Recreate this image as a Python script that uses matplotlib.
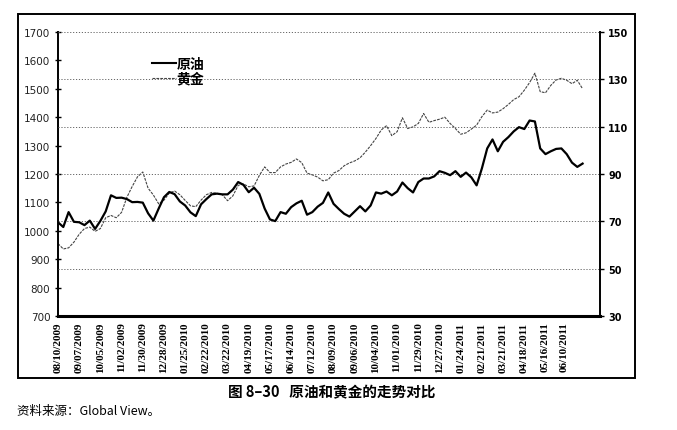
import matplotlib
matplotlib.use("Agg")
import matplotlib.pyplot as plt
import pandas as pd
from matplotlib.lines import Line2D
from matplotlib.patches import Rectangle

CJK = ["Noto Sans CJK SC", "DejaVu Sans"]
NARROW = ["Liberation Sans Narrow", "Liberation Serif", "DejaVu Sans"]

# weekly readings, first week = 08/10/2009
weeks = pd.date_range("2009-08-10", periods=100, freq="7D")

# gold, USD/oz (left axis)
gold = [
    955, 936, 940, 960, 988, 1008, 1013, 998, 1008, 1046,
    1054, 1046, 1065, 1118, 1156, 1190, 1207, 1150, 1126, 1095,
    1108, 1133, 1140, 1127, 1107, 1088, 1085, 1108, 1127, 1135,
    1132, 1127, 1106, 1123, 1160, 1165, 1155, 1158, 1195, 1225,
    1205, 1205, 1225, 1235, 1241, 1253, 1240, 1203, 1197, 1189,
    1176, 1180, 1203, 1212, 1229, 1239, 1246, 1257, 1277, 1300,
    1325, 1355, 1370, 1335, 1349, 1398, 1360, 1366, 1378, 1413,
    1382, 1388, 1393, 1400, 1378, 1360, 1340, 1345, 1358, 1372,
    1402, 1425, 1415, 1418, 1430, 1445, 1462, 1472, 1495, 1522,
    1555, 1490, 1486, 1512, 1531, 1537, 1530, 1518, 1530, 1500,
]

# crude oil, USD/bbl (right axis)
oil = [
    69.6, 67.6, 73.9, 69.8, 69.6, 68.4, 70.3, 66.8, 70.2, 74.2,
    81.0, 79.9, 80.0, 79.4, 78.1, 78.2, 77.9, 73.4, 70.3, 75.4,
    80.2, 82.4, 81.5, 78.4, 76.7, 73.8, 72.2, 77.2, 79.4, 81.4,
    81.7, 81.4, 81.4, 83.4, 86.6, 85.4, 82.3, 84.2, 81.6, 75.4,
    70.8, 70.1, 73.9, 73.2, 76.0, 77.6, 78.7, 72.8, 73.9, 76.2,
    77.8, 82.2, 77.4, 75.2, 73.2, 72.0, 74.2, 76.4, 74.2, 76.7,
    82.2, 81.7, 82.6, 81.0, 82.6, 86.4, 84.0, 82.2, 86.6, 88.1,
    88.1, 89.0, 91.2, 90.5, 89.5, 91.2, 88.8, 90.6, 88.6, 85.2,
    92.4, 100.8, 104.6, 99.6, 103.6, 105.6, 108.0, 109.8, 109.0, 112.6,
    112.2, 100.8, 98.4, 99.6, 100.6, 100.8, 98.4, 94.8, 93.0, 94.4,
]

tick_labels = [
    "08/10/2009", "09/07/2009", "10/05/2009", "11/02/2009", "11/30/2009",
    "12/28/2009", "01/25/2010", "02/22/2010", "03/22/2010", "04/19/2010",
    "05/17/2010", "06/14/2010", "07/12/2010", "08/09/2010", "09/06/2010",
    "10/04/2010", "11/01/2010", "11/29/2010", "12/27/2010", "01/24/2011",
    "02/21/2011", "03/21/2011", "04/18/2011", "05/16/2011", "06/10/2011",
]
tick_dates = pd.to_datetime(tick_labels, format="%m/%d/%Y")

left_ticks = list(range(700, 1701, 100))
right_ticks = list(range(30, 151, 20))

fig = plt.figure(figsize=(6.77, 4.31), dpi=100)
ax = fig.add_axes([58 / 677, 1 - 317 / 431, 542 / 677, 284 / 431])
ax2 = ax.twinx()

# outer box round the whole chart
fig.patches.append(Rectangle((18 / 677, 1 - 379 / 431), 617 / 677, 364 / 431,
                             transform=fig.transFigure, fill=False,
                             edgecolor="black", linewidth=1.4))

ax.plot(weeks, gold, color="#444444", linewidth=0.8, linestyle=(0, (2.5, 1)))
ax2.plot(weeks, oil, color="black", linewidth=1.6)

ax.set_ylim(700, 1700)
ax2.set_ylim(30, 150)
ax.set_xlim(tick_dates[0], tick_dates[0] + pd.Timedelta(days=716))

ax.set_yticks(left_ticks)
ax.set_yticklabels([str(v) for v in left_ticks], fontsize=7.5, color="#222222")
ax.tick_params(axis="y", direction="inout", length=5, width=1, pad=3)
ax2.set_yticks(right_ticks)
ax2.set_yticklabels([str(v) for v in right_ticks], fontsize=7,
                    fontweight="bold")
ax2.tick_params(axis="y", direction="out", length=3, width=1, pad=3)

ax.set_xticks(tick_dates)
ax.set_xticklabels(tick_labels, rotation=90, fontsize=8,
                   fontweight="bold", family=NARROW)
ax.tick_params(axis="x", length=0, pad=4)

# dotted guide lines at the right-axis ticks
for v in right_ticks:
    ax2.axhline(v, color="#666666", linewidth=0.7, linestyle=(0, (1.2, 1.8)),
                zorder=0)

for a in (ax, ax2):
    a.spines["top"].set_visible(False)
ax.spines["left"].set_linewidth(1.4)
ax2.spines["right"].set_linewidth(1.4)
ax.spines["bottom"].set_linewidth(2.2)
ax2.spines["bottom"].set_visible(False)
ax2.spines["left"].set_visible(False)
ax.spines["right"].set_visible(False)

handles = [
    Line2D([], [], color="black", linewidth=1.5),
    Line2D([], [], color="#444444", linewidth=0.8, linestyle=(0, (2.5, 1))),
]
ax2.legend(handles, ["原油", "黄金"], loc="upper left",
           bbox_to_anchor=((152 - 58) / 542, (317 - 58) / 284),
           frameon=False, borderpad=0, borderaxespad=0, handlelength=1.7,
           handletextpad=0.05, labelspacing=0.05,
           prop={"family": CJK, "weight": "bold", "size": 10})

fig.text(332 / 677, 1 - 392 / 431, "图 8–30   原油和黄金的走势对比",
         ha="center", va="center", fontsize=10.5, fontweight="bold",
         family=CJK)
fig.text(17 / 677, 1 - 412 / 431, "资料来源：Global View。",
         ha="left", va="center", fontsize=9, family=CJK)

fig.savefig("out.png", dpi=100)
